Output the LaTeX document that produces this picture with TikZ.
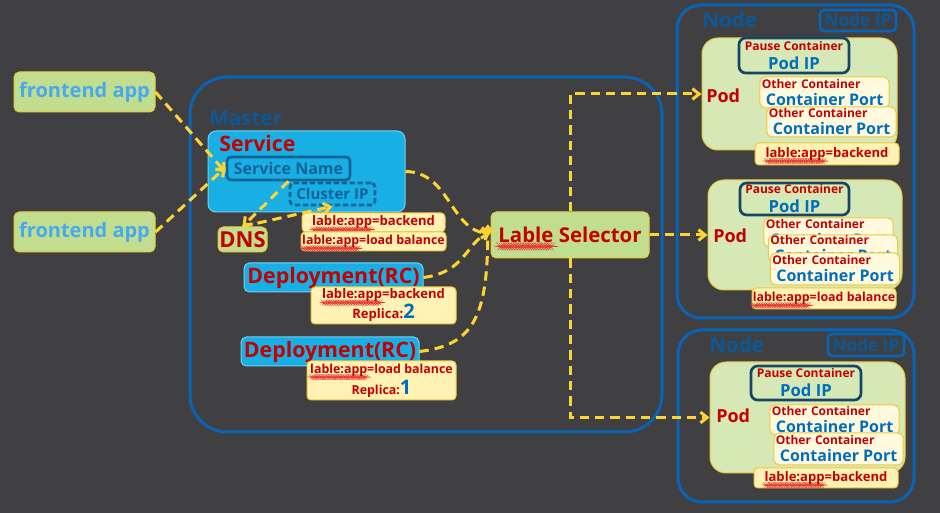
\documentclass[tikz,border=0pt]{standalone}
\usepackage{fontspec}
\setmainfont{Open Sans}
\usetikzlibrary{arrows.meta,decorations.pathmorphing}

\definecolor{bgGray}{RGB}{64,64,66}
\definecolor{flowYellow}{RGB}{255,212,50}
\definecolor{appGreen}{RGB}{192,222,142}
\definecolor{podGreen}{RGB}{213,232,182}
\definecolor{svcCyan}{RGB}{24,176,228}
\definecolor{cyanEdge}{RGB}{120,205,240}
\definecolor{frameBlue}{RGB}{10,100,182}
\definecolor{titleBlue}{RGB}{12,88,150}
\definecolor{nameBlue}{RGB}{18,98,150}
\definecolor{pauseEdge}{RGB}{22,70,100}
\definecolor{portBlue}{RGB}{0,110,188}
\definecolor{feBlue}{RGB}{72,168,240}
\definecolor{kRed}{RGB}{196,0,0}
\definecolor{waveRed}{RGB}{230,50,50}
\definecolor{lblYellow}{RGB}{255,242,180}
\definecolor{lblEdge}{RGB}{240,200,60}
\definecolor{ctrCream}{RGB}{255,250,222}

\newcommand\fApp{\fontsize{15}{18}\selectfont\bfseries}
\newcommand\fTitle{\fontsize{15.5}{18}\selectfont\bfseries}
\newcommand\fLbl{\fontsize{9.8}{12}\selectfont\bfseries}
\newcommand\fPort{\fontsize{12}{12.75}\selectfont}
% wavy spell-check underline
\newsavebox\wavybox
\newcommand\wavy[1]{\sbox\wavybox{#1}\rlap{\tikz[overlay,reset cm,baseline=0pt]
  \draw[waveRed,line width=0.25pt,decorate,decoration={snake,amplitude=0.3pt,segment length=1.8pt}]
  (0pt,-2.8pt) -- (\wd\wavybox,-2.8pt);}\usebox\wavybox}
\newcommand\lbl[1]{\wavy{lable:app}=#1}
\newcommand\otherctr{\textcolor{kRed}{Other Container}\\\hspace*{3pt}\textcolor{portBlue}{\fPort Container Port}}
\newcommand\pausectr{\textcolor{kRed}{Pause Container}\\\textcolor{portBlue}{\fontsize{12.5}{14.25}\selectfont Pod IP}}

\tikzset{
  greenbox/.style={draw=lblEdge, line width=0.75pt, fill=appGreen, rounded corners=4pt, inner sep=0pt},
  cyanbox/.style={draw=cyanEdge, line width=0.75pt, fill=svcCyan, rounded corners=6pt, inner sep=0pt},
  lblbox/.style={draw=lblEdge, line width=0.75pt, fill=lblYellow, rounded corners=3pt, inner sep=0pt, text=kRed, font=\fLbl},
  podbox/.style={draw=lblEdge, line width=0.75pt, fill=podGreen, rounded corners=12pt, inner sep=0pt},
  ctrbox/.style={draw=lblEdge, line width=0.75pt, fill=ctrCream, rounded corners=4pt, inner xsep=1.5pt, inner ysep=0pt,
    text width=94pt, align=left, font=\fontsize{9}{12.75}\selectfont\bfseries},
  pausebox/.style={draw=pauseEdge, line width=2pt, rounded corners=5pt, inner sep=0pt,
    align=center, font=\fontsize{9}{14.25}\selectfont\bfseries},
  ipbox/.style={draw=frameBlue, line width=2pt, rounded corners=3pt, inner sep=0pt, text=titleBlue,
    font=\fontsize{13}{14}\selectfont\bfseries},
  frame/.style={draw=frameBlue, line width=2.25pt},
  title/.style={anchor=base west, inner sep=0pt, font=\fTitle},
  flow/.style={draw=flowYellow, line width=2.25pt, dash pattern=on 7pt off 4.5pt,
    -{Straight Barb[length=5pt,width=8pt]}},
}

\begin{document}
\begin{tikzpicture}[x=0.75pt,y=0.75pt,yscale=-1,xscale=1]
%Background
\fill[bgGray] (0,0) rectangle (940,513);
\useasboundingbox (0,0) rectangle (940,513);

%Shape: Frontend apps
\node[greenbox, minimum width=105.75pt, minimum height=30pt, text=feBlue, font=\fApp] (fe1) at (84.5,92) {frontend app};
\node[greenbox, minimum width=105.75pt, minimum height=30pt, text=feBlue, font=\fApp] (fe2) at (84.5,232) {frontend app};

%Shape: Master frame
\node[frame, rounded corners=28pt, minimum width=354pt, minimum height=266.25pt] (master) at (426,254.5) {};
% Text Node
\node[title, text=titleBlue] (masterlbl) at (209,126) {Master};

%Shape: Service
\node[cyanbox, minimum width=147.75pt, minimum height=60.75pt] (svc) at (306.5,171.5) {};
% Text Node
\node[title, text=kRed, font=\fontsize{16}{18}\selectfont\bfseries] (svclbl) at (219,152) {Service};
\node[draw=nameBlue, line width=2pt, rounded corners=3pt, inner sep=0pt, minimum width=92.25pt, minimum height=17.25pt,
  text=nameBlue, font=\fontsize{12}{14}\selectfont\bfseries] (sname) at (288.5,168.5) {Service Name};
\node[draw=nameBlue, line width=2pt, dash pattern=on 4pt off 2pt, rounded corners=3pt, inner sep=0pt,
  minimum width=63.75pt, minimum height=16.5pt, text=nameBlue, font=\fontsize{11.3}{14}\selectfont\bfseries] (cip) at (332.5,194) {Cluster IP};

%Shape: DNS
\node[greenbox, minimum width=36.75pt, minimum height=18.75pt, text=kRed, font=\fontsize{16.5}{18}\selectfont\bfseries] (dns) at (242.5,239.5) {DNS};

%Shape: Service labels
\node[lblbox, minimum width=107.25pt, minimum height=14.25pt] (svcbk) at (373.5,222.5) {\lbl{backend}};
\node[lblbox, minimum width=108.75pt, minimum height=14.25pt, font=\fontsize{9.3}{12}\selectfont\bfseries] (svclb) at (373.5,241.5) {\lbl{load balance}};

%Shape: Lable Selector
\node[greenbox, minimum width=118.5pt, minimum height=34.5pt, text=kRed, font=\fontsize{15.3}{18}\selectfont\bfseries] (sel) at (570,235) {\wavy{Lable} Selector};

%Shape: Deployments
\node[cyanbox, rounded corners=4pt, minimum width=134.25pt, minimum height=21.75pt, text=kRed, font=\fontsize{16}{16}\selectfont\bfseries] (dep1) at (333.5,277.5) {Deployment(RC)};
\node[lblbox, minimum width=108.75pt, minimum height=27.75pt, align=center, font=\fontsize{9.8}{15}\selectfont\bfseries] (dep1lbl) at (383.5,305.5)
  {\lbl{backend}\\Replica:{\color{portBlue}\fontsize{15}{15}\selectfont 2}};
\node[cyanbox, rounded corners=4pt, minimum width=133.5pt, minimum height=21.75pt, text=kRed, font=\fontsize{16}{16}\selectfont\bfseries] (dep2) at (330,351.5) {Deployment(RC)};
\node[lblbox, minimum width=111.75pt, minimum height=29.25pt, align=center, font=\fontsize{9.3}{15.5}\selectfont\bfseries] (dep2lbl) at (381.5,380.5)
  {\lbl{load balance}\\Replica:{\color{portBlue}\fontsize{15}{15}\selectfont 1}};

%Shape: Node 1
\node[frame, rounded corners=18pt, minimum width=177.75pt, minimum height=234.75pt] (node1) at (795.5,161.5) {};
\node[title, text=titleBlue] (node1lbl) at (702,28) {Node};
\node[ipbox, minimum width=57pt, minimum height=15.75pt] (ip1) at (858,20.5) {Node IP};
\node[podbox, minimum width=146.25pt, minimum height=84pt] (pod1) at (799.5,94) {};
\node[title, text=kRed, font=\fontsize{13.5}{16}\selectfont\bfseries] (pod1lbl) at (706,103) {Pod};
\node[pausebox, minimum width=82.5pt, minimum height=26.25pt] (pause1) at (794,55.5) {\pausectr};
\node[ctrbox, minimum height=23.25pt] (ctr1a) at (824.5,92.5) {\otherctr};
\node[ctrbox, minimum height=22.5pt] (ctr1b) at (831.5,122) {\otherctr};
\node[lblbox, minimum width=108pt, minimum height=16.5pt] (pod1tag) at (827,154) {\lbl{backend}};

%Shape: Pod 2 (in Node 1)
\node[podbox, minimum width=145.5pt, minimum height=82.5pt] (pod2) at (805,235) {};
\node[title, text=kRed, font=\fontsize{13.5}{16}\selectfont\bfseries] (pod2lbl) at (713,243) {Pod};
\node[pausebox, minimum width=81.75pt, minimum height=24pt] (pause2) at (794.5,199) {\pausectr};
\node[ctrbox, minimum height=21.75pt] (ctr2a) at (828.5,232.5) {\otherctr};
\node[ctrbox, minimum height=20.25pt] (ctr2b) at (833,248.5) {\otherctr};
\node[ctrbox, minimum height=24pt] (ctr2c) at (835,269) {\otherctr};
\node[lblbox, minimum width=108pt, minimum height=15.75pt, font=\fontsize{9.3}{12}\selectfont\bfseries] (pod2tag) at (824,298.5) {\lbl{load balance}};

%Shape: Node 2
\node[frame, rounded corners=18pt, minimum width=177pt, minimum height=129pt] (node2) at (796,416) {};
\node[title, text=titleBlue] (node2lbl) at (709,353) {Node};
\node[ipbox, minimum width=57pt, minimum height=16.5pt] (ip2) at (866,345) {Node IP};
\node[podbox, minimum width=146.25pt, minimum height=83.25pt] (pod3) at (807.5,417.5) {};
\node[title, text=kRed, font=\fontsize{13.5}{16}\selectfont\bfseries] (pod3lbl) at (716,423) {Pod};
\node[pausebox, minimum width=82.5pt, minimum height=25.5pt] (pause3) at (806,383) {\pausectr};
\node[ctrbox, minimum height=22.5pt] (ctr3a) at (834.5,420) {\otherctr};
\node[ctrbox, minimum height=24pt] (ctr3b) at (838.5,449) {\otherctr};
\node[lblbox, minimum width=108pt, minimum height=15pt] (pod3tag) at (826,478) {\lbl{backend}};

%Straight Lines: frontend to service
\draw[flow] (fe1.east) -- ([yshift=3pt]sname.west);
\draw[flow] (fe2.east) -- ([yshift=-1pt]sname.west);
\draw[flow] (sname.south) -- (dns.north);
\draw[flow] (dns.north) -- (cip.south);

%Curves: into Lable Selector
\draw[flow] (svc.east) .. controls (450,172) and (450,230) .. ([yshift=-1pt]sel.west);
\draw[flow] (dep1.east) .. controls (465,272) and (465,245) .. ([yshift=-3pt]sel.west);
\draw[flow] (dep2.east) .. controls (475,345) and (488,315) .. ([xshift=-2pt,yshift=-8pt]sel.west);

%Lines: Lable Selector to Pods
\draw[flow] (sel.north) |- (pod1.west);
\draw[flow] (sel.east) -- (sel.east -| pod2.west);
\draw[flow] (sel.south) |- (pod3.west);
\end{tikzpicture}
\end{document}
